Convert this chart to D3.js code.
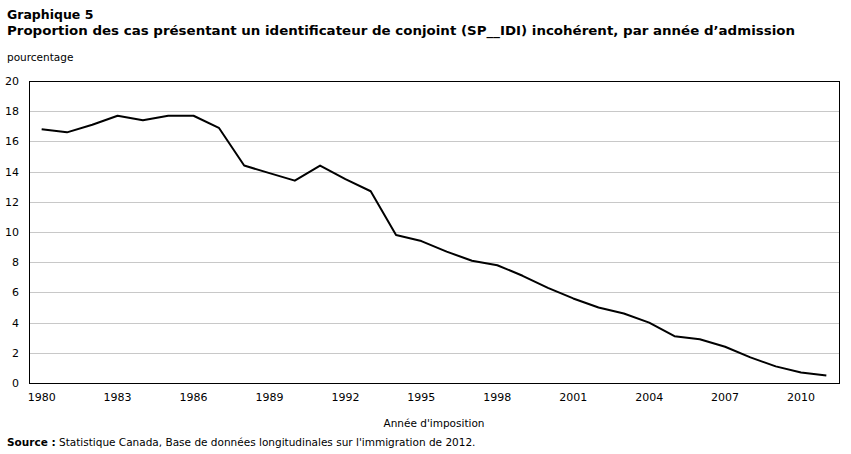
<!DOCTYPE html>
<html>
<head>
<meta charset="utf-8">
<script src="https://cdn.jsdelivr.net/npm/d3@7"></script>
<style>
  body { margin: 0; background: #fff; }
  text { font-family: "DejaVu Sans", Verdana, sans-serif; fill: #000; }
</style>
</head>
<body>
<svg id="chart" width="851" height="454"></svg>
<script>
const svg = d3.select("#chart"),
    margin = { top: 81, right: 12, bottom: 71, left: 29 },
    width = +svg.attr("width") - margin.left - margin.right,
    height = +svg.attr("height") - margin.top - margin.bottom;

// Data
const years = d3.range(1980, 2012);
const values = [16.8, 16.6, 17.1, 17.7, 17.4, 17.7, 17.7, 16.9, 14.4, 13.9,
    13.4, 14.4, 13.5, 12.7, 9.8, 9.4, 8.7, 8.1, 7.8, 7.1,
    6.3, 5.6, 5.0, 4.6, 4.0, 3.1, 2.9, 2.4, 1.7, 1.1,
    0.7, 0.5];
const yTicks = [0, 2, 4, 6, 8, 10, 12, 14, 16, 18, 20];
const xTickYears = [1980, 1983, 1986, 1989, 1992, 1995, 1998, 2001, 2004, 2007, 2010];

const data = years.map((yr, i) => ({ year: yr, value: values[i] }));

// Titles
svg.append("text").attr("x", 7).attr("y", 19)
    .style("font-size", "12.5px").style("font-weight", "bold")
    .text("Graphique  5");
svg.append("text").attr("x", 7).attr("y", 35)
    .style("font-size", "12.5px").style("font-weight", "bold")
    .attr("textLength", 788).attr("lengthAdjust", "spacingAndGlyphs")
    .text("Proportion  des cas présentant un identificateur  de conjoint  (SP__IDI)  incohérent,  par année d’admission");
svg.append("text").attr("x", 7).attr("y", 61)
    .style("font-size", "10.5px")
    .text("pourcentage");

const g = svg.append("g")
    .attr("transform", `translate(${margin.left},${margin.top})`);

const x = d3.scaleBand().domain(years).range([0, width]);
const y = d3.scaleLinear().domain([0, 20]).range([height, 0]);

// Gridlines
g.append("g")
    .selectAll("line")
    .data(yTicks.filter(d => d > 0 && d < 20))
    .enter().append("line")
    .attr("x1", 0).attr("x2", width)
    .attr("y1", d => Math.round(y(d)) + 0.5)
    .attr("y2", d => Math.round(y(d)) + 0.5)
    .attr("stroke", "#c8c8c8")
    .attr("stroke-width", 1);

// Y axis labels
const yAxis = g.append("g")
    .call(d3.axisLeft(y).tickValues(yTicks).tickSize(0).tickPadding(10));
yAxis.select(".domain").remove();
yAxis.selectAll("text").style("font-size", "11px").style("font-family", "DejaVu Sans, Verdana, sans-serif");

// X axis labels
const xAxis = g.append("g")
    .attr("transform", `translate(0,${height})`)
    .call(d3.axisBottom(x).tickValues(xTickYears).tickSize(0).tickPadding(10));
xAxis.select(".domain").remove();
xAxis.selectAll("text").style("font-size", "11px").style("font-family", "DejaVu Sans, Verdana, sans-serif");

// Plot border
g.append("rect")
    .attr("x", 0.5).attr("y", 0.5)
    .attr("width", width).attr("height", height)
    .attr("fill", "none")
    .attr("stroke", "#000")
    .attr("stroke-width", 1);

// Line
const line = d3.line()
    .x(d => x(d.year) + x.bandwidth() / 2)
    .y(d => y(d.value));

g.append("path")
    .datum(data)
    .attr("fill", "none")
    .attr("stroke", "#000")
    .attr("stroke-width", 2)
    .attr("stroke-linejoin", "round")
    .attr("d", line);

// X axis title
svg.append("text")
    .attr("x", margin.left + width / 2).attr("y", 427)
    .attr("text-anchor", "middle")
    .style("font-size", "10.5px")
    .text("Année d'imposition");

// Source
const src = svg.append("text").attr("x", 7).attr("y", 446).style("font-size", "10.5px");
src.append("tspan").style("font-weight", "bold").text("Source :");
src.append("tspan").text(" Statistique Canada, Base de données longitudinales sur l'immigration de 2012.");
</script>
</body>
</html>
